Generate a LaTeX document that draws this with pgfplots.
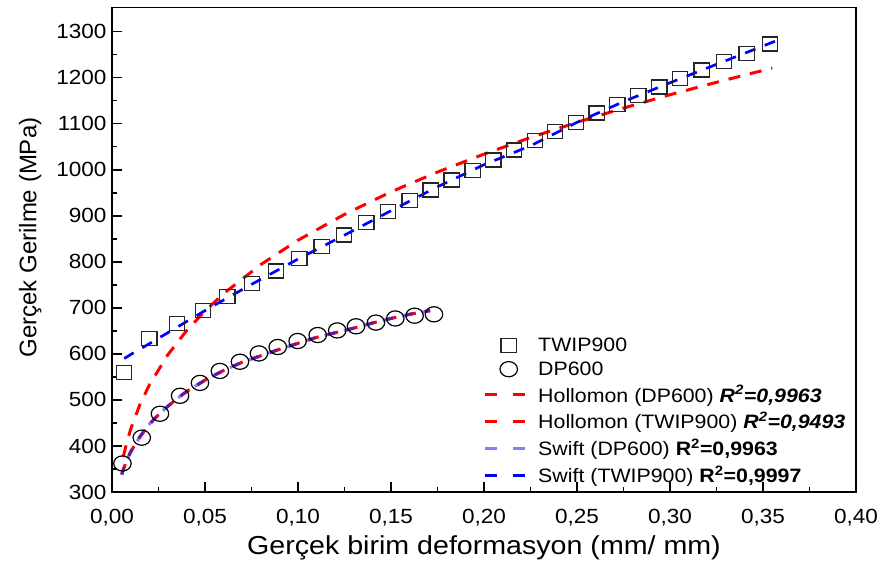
\documentclass[border=0pt]{standalone}
\usepackage{pgfplots}
\pgfplotsset{compat=1.18}
\usepackage{fontspec}
\setmainfont{Liberation Sans}[FakeStretch=1.1]
\newfontfamily\ylabfont{Liberation Sans}
\definecolor{myred}{RGB}{255,0,0}
\definecolor{myblue}{RGB}{0,0,255}
\definecolor{mylightblue}{RGB}{128,128,255}
\definecolor{mypurple}{RGB}{110,20,160}
\pgfplotsset{
  linelegend/.style={legend image code/.code={\path (0pt,0pt) (50pt,0pt); \draw[##1] (0pt,0pt) -- (40pt,0pt);}},
  marklegend/.style={legend image code/.code={\path (0pt,0pt) (50pt,0pt); \draw[##1] plot coordinates {(24pt,0pt)};}},
}
\begin{document}
\begin{tikzpicture}
\path[use as bounding box] (0pt,0pt) rectangle (880pt,565pt);
\begin{axis}[
  at={(112pt,73pt)}, anchor=south west,
  scale only axis, width=744pt, height=484.5pt,
  xmin=0, xmax=0.40, ymin=300, ymax=1352.5,
  xtick={0,0.05,...,0.40}, ytick={300,400,...,1300},
  minor x tick num=1, minor y tick num=1,
  xtick pos=bottom, ytick pos=left,
  tick align=inside,
  major tick length=10pt, minor tick length=5pt,
  axis line style={line width=1.6pt},
  every tick/.style={line width=1.5pt, black},
  /pgf/number format/assume math mode=true,
  /pgf/number format/1000 sep={},
  xticklabel style={/pgf/number format/use comma, /pgf/number format/fixed, /pgf/number format/fixed zerofill, /pgf/number format/precision=2, yshift=-14pt},
  ticklabel style={font=\fontsize{20.5}{20.5}\selectfont},
  yticklabel style={xshift=-2pt},
  xlabel={Gerçek birim deformasyon (mm/ mm)},
  ylabel={Gerçek Gerilme (MPa)},
  xlabel style={font=\fontsize{26}{26}\selectfont, at={(axis description cs:0.5,-0.115)}, anchor=center},
  ylabel style={font=\ylabfont\fontsize{24}{24}\selectfont, at={(axis description cs:-0.11,0.525)}, anchor=center},
  legend cell align=left,
  legend style={draw=none, fill=none, font=\fontsize{19.4}{19.4}\selectfont,
    at={(0.4987,0.322)}, anchor=north west, row sep=4.4pt, inner sep=0pt,
    /tikz/every even column/.append style={column sep=4pt}},
]
% data markers
\addplot[only marks, mark=square, mark size=7pt, mark options={xscale=1.1, line width=1.3pt, draw=black!85, fill=none}, forget plot] coordinates {
(0.0065,560) (0.020,633) (0.035,666) (0.049,695) (0.062,724) (0.0753,753)
(0.0881,780) (0.1007,807) (0.1127,834) (0.1247,858) (0.1367,885) (0.1484,909)
(0.160,933) (0.1713,956) (0.1826,978) (0.1939,999) (0.205,1021) (0.2161,1043)
(0.2274,1063) (0.2382,1083) (0.2495,1103) (0.2606,1123) (0.2717,1142) (0.283,1161)
(0.2943,1180) (0.3054,1198) (0.317,1217) (0.329,1235) (0.3412,1253) (0.3538,1273)
};
\addplot[only marks, mark=o, mark size=7.6pt, mark options={xscale=1.15, line width=1.2pt, draw=black, fill=none}, forget plot] coordinates {
(0.0056,362) (0.016,418) (0.0258,470) (0.0366,509) (0.0473,537) (0.058,563)
(0.0688,583) (0.079,601) (0.0891,615) (0.0998,628) (0.1106,641) (0.1211,651)
(0.1312,660) (0.1419,668) (0.1523,677) (0.1627,683) (0.1731,686)
};
% Hollomon DP600 (red) and Swift DP600 (light blue), overlapping
\addplot[myred, line width=3pt, dash pattern=on 11pt off 9pt, forget plot] coordinates {
(0.0052,338) (0.0075,365) (0.01,387) (0.015,420) (0.02,447) (0.025,468) (0.03,486)
(0.035,503) (0.04,518) (0.05,543) (0.06,564) (0.07,582) (0.08,596) (0.09,610)
(0.10,623) (0.11,636) (0.12,646) (0.13,656) (0.14,667) (0.15,677) (0.16,686) (0.171,694)
};
\addplot[mylightblue, line width=3pt, dash pattern=on 11pt off 9pt, dash phase=3pt, forget plot] coordinates {
(0.0052,338) (0.0075,365) (0.01,387) (0.015,420) (0.02,447) (0.025,468) (0.03,486)
(0.035,503) (0.04,518) (0.05,543) (0.06,564) (0.07,582) (0.08,596) (0.09,610)
(0.10,623) (0.11,636) (0.12,646) (0.13,656) (0.14,667) (0.15,677) (0.16,686) (0.171,694)
};
\addplot[mypurple, line width=3pt, dash pattern=on 8pt off 12pt, forget plot] coordinates {
(0.0052,338) (0.0075,365) (0.01,387) (0.015,420) (0.02,447) (0.025,468) (0.03,486)
(0.035,503) (0.04,518) (0.05,543) (0.06,564) (0.07,582) (0.08,596) (0.09,610)
(0.10,623) (0.11,636) (0.12,646) (0.13,656) (0.14,667) (0.15,677) (0.16,686) (0.171,694)
};
% Hollomon TWIP900
\addplot[myred, line width=3pt, dash pattern=on 12pt off 10pt, forget plot] coordinates {
(0.006,376) (0.008,408) (0.01,436) (0.015,490) (0.02,532) (0.03,598) (0.04,650)
(0.05,693) (0.06,731) (0.08,794) (0.10,847) (0.125,903) (0.15,952) (0.175,995)
(0.2,1034) (0.225,1070) (0.25,1103) (0.275,1134) (0.3,1163) (0.325,1190) (0.355,1221)
};
% Swift TWIP900
\addplot[myblue, line width=2.7pt, dash pattern=on 11pt off 10pt, forget plot] coordinates {
(0.0066,590) (0.011,601) (0.02,622) (0.03,646) (0.04,670) (0.05,694) (0.06,717)
(0.075,751) (0.1,806) (0.125,858) (0.15,911) (0.175,963) (0.2,1011) (0.225,1052)
(0.25,1103) (0.275,1148) (0.3,1189) (0.325,1229) (0.357,1280)
};
% legend
\addlegendimage{marklegend, only marks, mark=square, mark size=7pt, mark options={xscale=1.1, line width=1.3pt, draw=black!85, fill=none}}
\addlegendentry{TWIP900}
\addlegendimage{marklegend, only marks, mark=o, mark size=7.6pt, mark options={xscale=1.15, line width=1.2pt, draw=black, fill=none}}
\addlegendentry{DP600}
\addlegendimage{linelegend, myred, line width=3pt, dash pattern=on 12pt off 16pt}
\addlegendentry{Hollomon (DP600) \textbf{\textit{R\textsuperscript{2}=0,9963}}}
\addlegendimage{linelegend, myred, line width=3pt, dash pattern=on 12pt off 16pt}
\addlegendentry{Hollomon (TWIP900) \textbf{\textit{R\textsuperscript{2}=0,9493}}}
\addlegendimage{linelegend, mylightblue, line width=3pt, dash pattern=on 12pt off 16pt}
\addlegendentry{Swift (DP600) \textbf{R\textsuperscript{2}=0,9963}}
\addlegendimage{linelegend, myblue, line width=3pt, dash pattern=on 12pt off 16pt}
\addlegendentry{Swift (TWIP900) \textbf{R\textsuperscript{2}=0,9997}}
\end{axis}
\end{tikzpicture}
\end{document}
